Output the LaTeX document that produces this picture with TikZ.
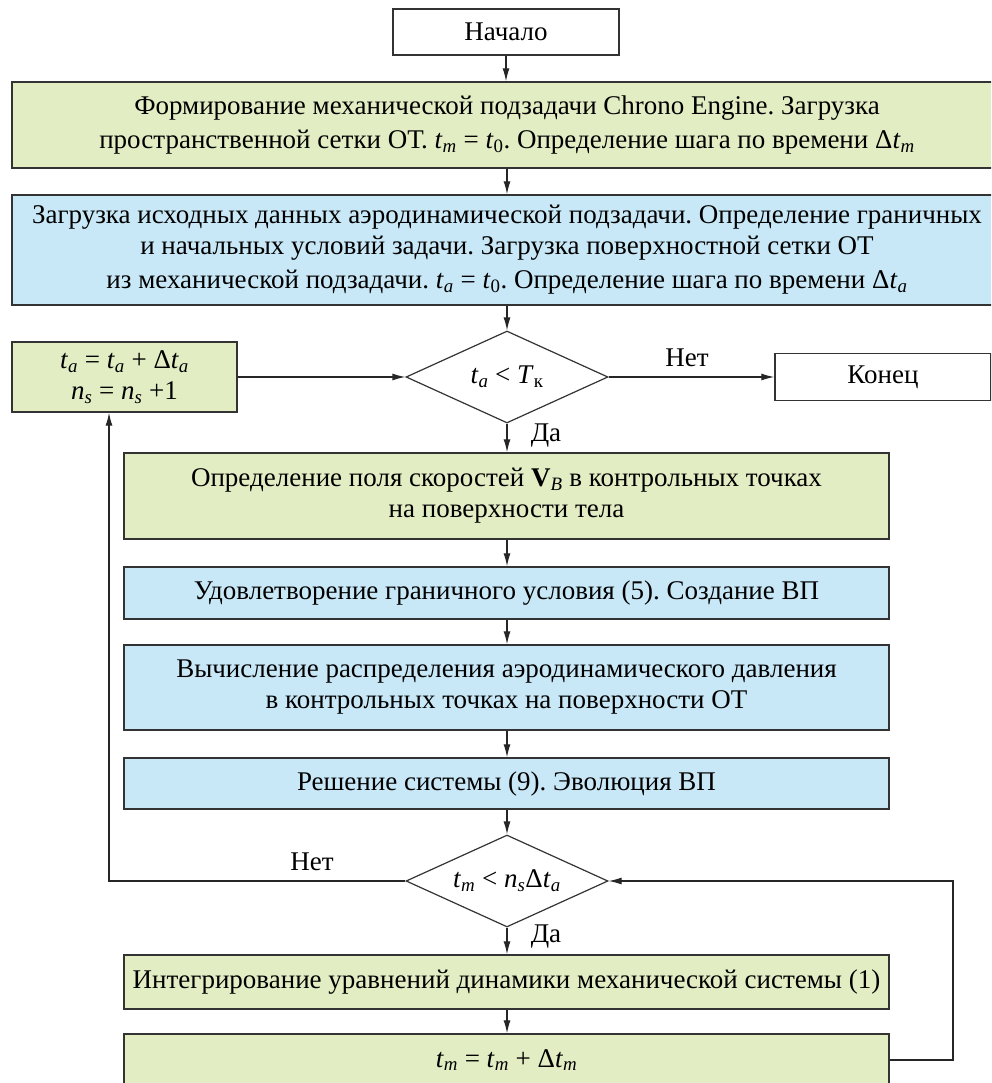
\documentclass[tikz,border=0pt]{standalone}
\usepackage{fontspec}
\setmainfont{Liberation Serif}
\usetikzlibrary{shapes.geometric,arrows.meta}
\newcommand\vsub[2]{\textit{#1}\textsubscript{\textit{#2}}}
\definecolor{boxgreen}{HTML}{E3EDC4}
\definecolor{boxblue}{HTML}{C8E8F7}
\definecolor{edgecol}{HTML}{333333}
\frenchspacing
\begin{document}
\frenchspacing
\begin{tikzpicture}[x=1pt,y=-1pt,
  every node/.style={font=\fontsize{27}{34}\selectfont},
  box/.style={draw=edgecol, line width=1.4pt, rectangle, inner sep=0pt, align=center},
  gbox/.style={box, fill=boxgreen},
  bbox/.style={box, fill=boxblue},
  wbox/.style={box, fill=white},
  dec/.style={draw=edgecol, line width=1.2pt, shape=diamond, inner sep=0pt, minimum width=202pt, minimum height=92pt, fill=white},
  arr/.style={draw=black!85, line width=1.2pt, -{Latex[length=13pt,width=7pt]}},
  lab/.style={inner sep=0pt}]
\clip (0,0) rectangle (991,1083);
\fill[white] (0,0) rectangle (991,1083);

\node[wbox, minimum width=226pt, minimum height=46pt] (start) at (506,32) {Начало};
\node[gbox, minimum width=990pt, minimum height=86pt] (b1) at (507,125)
  {Формирование механической подзадачи Chrono Engine. Загрузка\\
   пространственной сетки ОТ. \vsub{t}{m} = \textit{t}\textsubscript{0}. Определение шага по времени Δ\vsub{t}{m}};
\node[bbox, minimum width=990pt, minimum height=110pt] (b2) at (507,250)
  {Загрузка исходных данных аэродинамической подзадачи. Определение граничных\\[-3pt]
   и начальных условий задачи. Загрузка поверхностной сетки ОТ\\
   из механической подзадачи. \vsub{t}{a} = \textit{t}\textsubscript{0}. Определение шага по времени Δ\vsub{t}{a}};
\node[dec] (d1) at (507,377) {\makebox[0pt]{\vsub{t}{a} < \textit{T}\textsubscript{к}}};
\node[gbox, minimum width=225pt, minimum height=70pt] (lb) at (124.5,377)
  {\vsub{t}{a} = \vsub{t}{a} + Δ\vsub{t}{a}\\[-3pt] \vsub{n}{s} = \vsub{n}{s} +1};
\node[wbox, minimum width=216pt, minimum height=47pt] (fin) at (883,377) {Конец};
\node[gbox, minimum width=765pt, minimum height=86pt] (b3) at (506.5,496)
  {Определение поля скоростей \textbf{V}\textsubscript{\textit{B}} в контрольных точках\\[-3pt]
   на поверхности тела};
\node[bbox, minimum width=765pt, minimum height=52pt] (b4) at (506.5,593)
  {Удовлетворение граничного условия (5). Создание ВП};
\node[bbox, minimum width=765pt, minimum height=85pt] (b5) at (506.5,687.5)
  {Вычисление распределения аэродинамического давления\\[-3pt]
   в контрольных точках на поверхности ОТ};
\node[bbox, minimum width=765pt, minimum height=51pt] (b6) at (506.5,783.5)
  {Решение системы (9). Эволюция ВП};
\node[dec] (d2) at (507,881) {\makebox[0pt]{\vsub{t}{m} < \vsub{n}{s}Δ\vsub{t}{a}}};
\node[gbox, minimum width=765pt, minimum height=54pt] (b7) at (506.5,982)
  {Интегрирование уравнений динамики механической системы (1)};
\node[gbox, minimum width=765pt, minimum height=52pt] (b8) at (506.5,1060)
  {\vsub{t}{m} = \vsub{t}{m} + Δ\vsub{t}{m}};

\node[lab] (no1) at (687,358) {Нет};
\node[lab] (yes1) at (546,436) {Да};
\node[lab] (no2) at (312,862) {Нет};
\node[lab] (yes2) at (546,937) {Да};

\coordinate (lc) at (109,881);
\coordinate (rc) at (953,1060);

\draw[arr] (start.south) -- (start.south |- b1.north);
\draw[arr] (d1.north |- b1.south) -- (d1.north |- b2.north);
\draw[arr] (d1.north |- b2.south) -- (d1.north);
\draw[arr] (lb.east) -- (d1.west);
\draw[arr] (d1.east) -- (fin.west);
\draw[arr] (d1.south) -- (d1.south |- b3.north);
\draw[arr] (d1.south |- b3.south) -- (d1.south |- b4.north);
\draw[arr] (d1.south |- b4.south) -- (d1.south |- b5.north);
\draw[arr] (d1.south |- b5.south) -- (d1.south |- b6.north);
\draw[arr] (d1.south |- b6.south) -- (d2.north);
\draw[arr] (d2.south) -- (d2.south |- b7.north);
\draw[arr] (d2.south |- b7.south) -- (d2.south |- b8.north);
\draw[arr] (d2.west) -- (lc) -- (lc |- lb.south);
\draw[arr] (b8.east) -- (rc) |- (d2.east);
\end{tikzpicture}
\end{document}
